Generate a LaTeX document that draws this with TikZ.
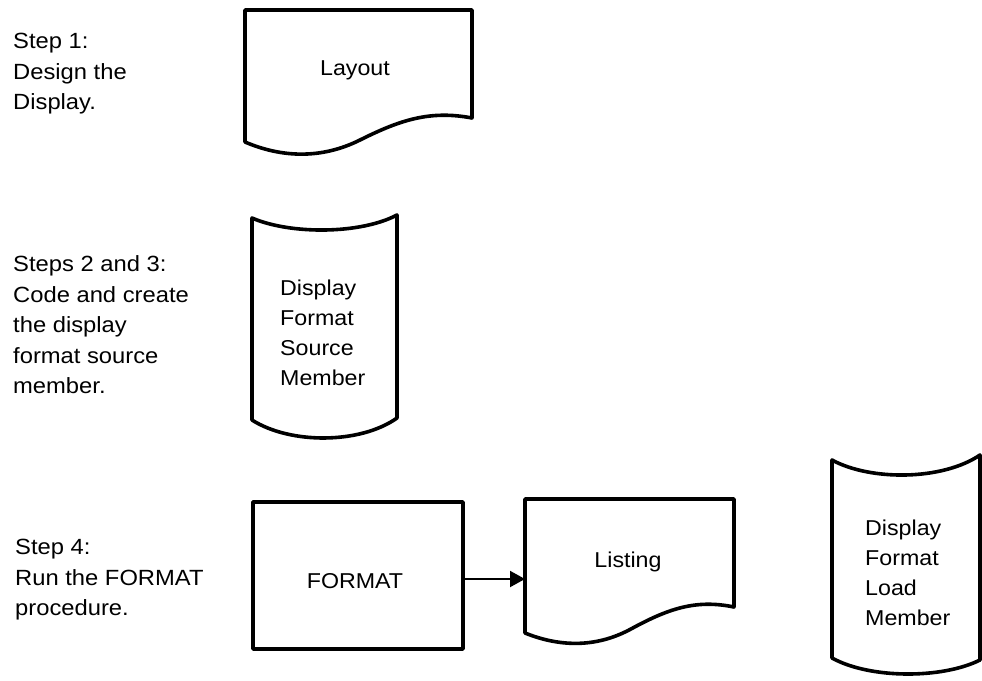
\documentclass[tikz,border=0pt]{standalone}
\usepackage{fontspec}
\setmainfont{Liberation Sans}[FakeStretch=1.08]
\usetikzlibrary{arrows.meta}
\tikzset{
  stepnote/.style={font=\fontsize{22}{30.5}\selectfont, align=left, inner sep=0pt, anchor=north west},
  boxtext/.style={font=\fontsize{21.5}{30}\selectfont, align=left, inner sep=0pt},
  outline/.style={draw=black, line width=3.6pt, line join=round},
  frame/.style={inner sep=0pt, outer sep=0pt},
  flow/.style={draw=black, line width=2pt, -{Triangle[length=15pt,width=16pt]}}
}
\begin{document}
\begin{tikzpicture}[x=1pt,y=-1pt]
\path[use as bounding box] (0,0) rectangle (982,680);

% left column notes
\node[stepnote] (s1) at (13,33) {Step 1:\\Design the\\Display.};
\node[stepnote] (s23) at (13,255.5) {Steps 2 and 3:\\Code and create\\the display\\format source\\member.};
\node[stepnote] (s4) at (15,539) {Step 4:\\Run the FORMAT\\procedure.};

% Layout document
\draw[outline] (245,142) -- (245,10) -- (472,10) -- (472,118)
  .. controls (430,110) and (400,120) .. (360,140)
  .. controls (320,160) and (280,157) .. cycle;
\node[boxtext, anchor=base] (lay) at (355,75) {Layout};

% Display format source member (stored data)
\draw[outline] (252,218) .. controls (290,234.5) and (360,234.5) .. (397,215)
  -- (397,418) .. controls (360,444.3) and (290,444.3) .. (252,420) -- cycle;
\node[boxtext, anchor=north west] (src) at (280,280) {Display\\Format\\Source\\Member};

% FORMAT procedure
\node[frame, outline, minimum width=210pt, minimum height=147pt] (fmt) at (358,575.5) {};
\node[boxtext, anchor=base] (fmtlabel) at (355,588) {FORMAT};

% Listing document
\node[frame, minimum width=209pt, minimum height=146pt] (lst) at (629.5,572) {};
\draw[outline] (525,633) -- (525,499) -- (734,499) -- (734,607)
  .. controls (695.3,599) and (667.7,609) .. (630.9,629)
  .. controls (594.1,649) and (557.2,646) .. cycle;
\node[boxtext, anchor=base] (lstlabel) at (628,567) {Listing};

% Display format load member (stored data)
\draw[outline] (832,460) .. controls (870,480.8) and (942,480.8) .. (980,455)
  -- (980,660) .. controls (942,679) and (870,679) .. (832,658) -- cycle;
\node[boxtext, anchor=north west] (load) at (865,520) {Display\\Format\\Load\\Member};

% connector
\draw[flow] ([yshift=-3.5pt]fmt.east) -- ([yshift=-3.5pt]fmt.east -| lst.west);
\end{tikzpicture}
\end{document}
